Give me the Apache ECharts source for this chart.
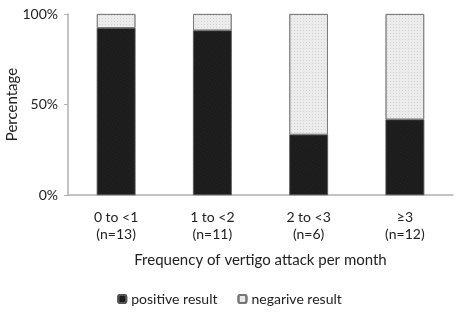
<!DOCTYPE html>
<html>
<head>
<meta charset="utf-8">
<script src="https://cdn.jsdelivr.net/npm/echarts@6/dist/echarts.min.js"></script>
<style>
  html, body { margin: 0; padding: 0; background: #fff; }
  #chart { width: 459px; height: 312px; }
</style>
</head>
<body>
<div id="chart"></div>
<script>
// frequency groups and share of results (%)
const categories = ['0 to <1\n(n=13)', '1 to <2\n(n=11)', '2 to <3\n(n=6)', '≥3\n(n=12)'];
const positive = [92.3, 90.9, 33.3, 41.7];
const negative = [7.7, 9.1, 66.7, 58.3];
const yTicks = [0, 50, 100];

const font = 'Lato';

const chart = echarts.init(document.getElementById('chart'));
chart.setOption({
  animation: false,
  textStyle: { fontFamily: font },
  grid: { left: 68, right: 6, top: 14, bottom: 117, containLabel: false, outerBoundsMode: 'none' },
  legend: {
    bottom: 1,
    left: 'center',
    itemWidth: 8,
    itemHeight: 8,
    itemGap: 20,
    textStyle: { fontFamily: font, fontSize: 14, color: '#222' },
    data: ['positive result', 'negarive result']
  },
  xAxis: {
    type: 'category',
    data: categories,
    name: 'Frequency of vertigo attack per month',
    nameLocation: 'middle',
    nameGap: 58,
    nameMoveOverlap: false,
    nameTextStyle: { fontFamily: font, fontSize: 15, color: '#222' },
    axisLine: { lineStyle: { color: '#b0b0b0', width: 1.5 } },
    axisTick: { show: false },
    axisLabel: { fontFamily: font, fontSize: 14, color: '#222', margin: 14, lineHeight: 17 }
  },
  yAxis: {
    type: 'value',
    min: 0,
    max: 100,
    interval: 50,
    name: 'Percentage',
    nameLocation: 'middle',
    nameGap: 48,
    nameMoveOverlap: false,
    nameTextStyle: { fontFamily: font, fontSize: 15, color: '#222' },
    axisLine: { show: true, lineStyle: { color: '#b0b0b0', width: 1.5 } },
    axisTick: { show: true, length: 4, lineStyle: { color: '#b0b0b0' } },
    splitLine: { show: false },
    axisLabel: {
      fontFamily: font, fontSize: 14, color: '#222', margin: 10,
      formatter: v => yTicks.includes(v) ? v + '%' : ''
    }
  },
  series: [
    {
      name: 'positive result',
      type: 'bar',
      stack: 'total',
      barWidth: '40%',
      data: positive,
      itemStyle: {
        color: '#1c1c1c',
        borderColor: '#555',
        borderWidth: 0.5,
        decal: { symbol: 'rect', symbolSize: 0.5, dashArrayX: [1, 2], dashArrayY: [1, 2], color: 'rgba(90,90,90,0.7)' }
      }
    },
    {
      name: 'negarive result',
      type: 'bar',
      stack: 'total',
      barWidth: '40%',
      data: negative,
      itemStyle: {
        color: '#ececec',
        borderColor: '#777',
        borderWidth: 0.8,
        decal: { symbol: 'rect', symbolSize: 0.6, dashArrayX: [1, 2], dashArrayY: [1, 2], color: 'rgba(130,130,130,0.8)' }
      }
    }
  ],
  aria: { enabled: true, decal: { show: true } }
});
</script>
</body>
</html>
